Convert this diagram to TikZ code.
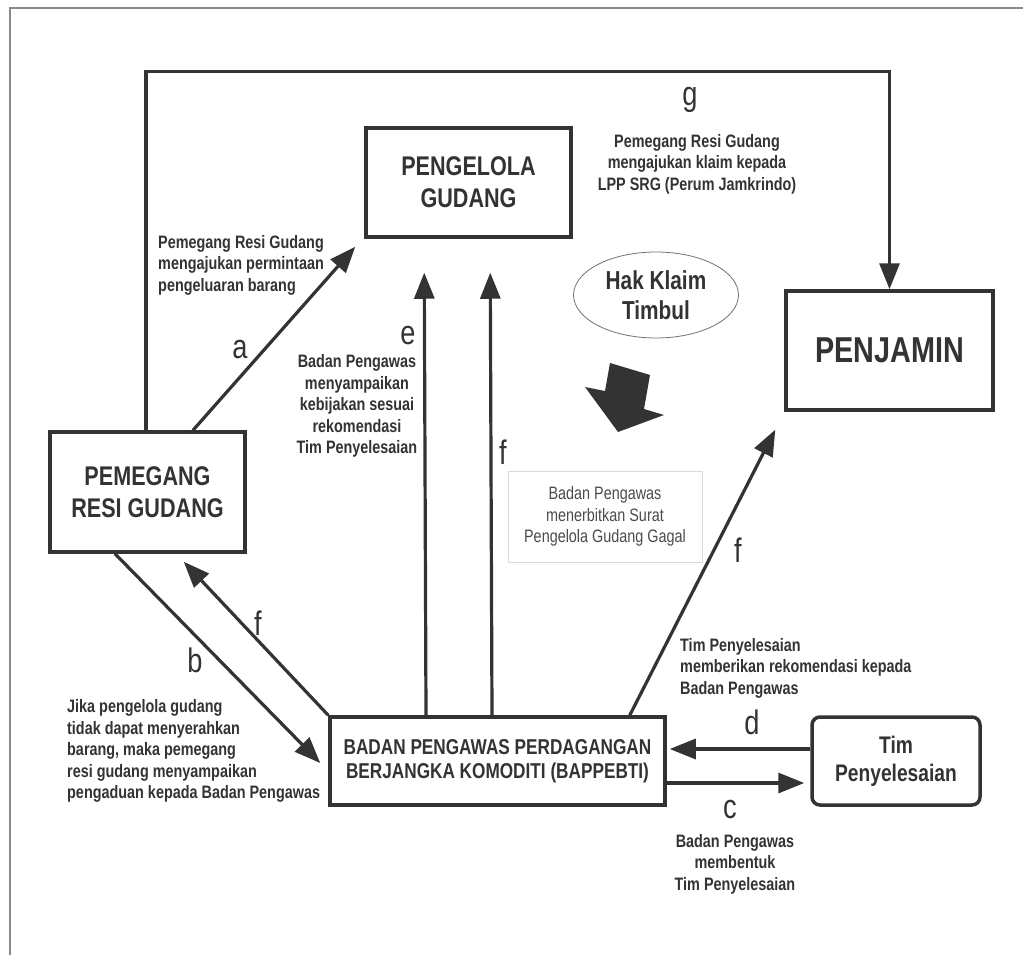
\documentclass[tikz,border=0pt]{standalone}
\usepackage{fontspec}
\setmainfont{Liberation Sans}
\newfontfamily\cond{Liberation Sans}[FakeStretch=0.8]
\usetikzlibrary{arrows.meta,shapes.geometric,calc}
\definecolor{ink}{HTML}{333333}
\definecolor{frame}{HTML}{8A8A8A}
\begin{document}
\begin{tikzpicture}[x=1pt,y=-1pt,
  box/.style={draw=ink, line width=3.5pt, inner sep=0pt, align=center, text=ink,
    font=\cond\bfseries\fontsize{27}{32}\selectfont},
  conn/.style={draw=ink, line width=3.2pt, -{Triangle[length=26pt,width=20pt]}},
  lbl/.style={font=\cond\fontsize{34}{34}\selectfont, text=ink, inner sep=0pt},
  note/.style={font=\cond\bfseries\fontsize{18}{21.5}\selectfont, text=ink, inner sep=0pt},
]
\useasboundingbox (0,0) rectangle (1023,955);
\fill[white] (0,0) rectangle (1023,955);
% page frame
\draw[frame, line width=1.5pt] (10,955) -- (10,8) -- (1023,8);

% boxes
\node[box, minimum width=195pt, minimum height=120pt] (prg) at (147.5,492) {PEMEGANG\\RESI GUDANG};
\node[box, minimum width=205pt, minimum height=109pt] (pg) at (468.5,182.5) {PENGELOLA\\GUDANG};
\node[box, minimum width=207pt, minimum height=119pt, font=\cond\bfseries\fontsize{36}{40}\selectfont] (pj) at (889.5,350.5) {PENJAMIN};
\node[box, minimum width=335pt, minimum height=88pt, font=\cond\bfseries\fontsize{21.5}{24}\selectfont] (bap) at (497.5,761) {BADAN PENGAWAS PERDAGANGAN\\BERJANGKA KOMODITI (BAPPEBTI)};
\node[box, rounded corners=8pt, minimum width=168pt, minimum height=88pt, font=\cond\bfseries\fontsize{24}{28}\selectfont] (tim) at (896,761) {Tim\\Penyelesaian};
\node[draw=black!15, line width=1pt, minimum width=194pt, minimum height=91pt, inner sep=0pt, align=center,
  text=black!70, font=\cond\fontsize{18}{21.5}\selectfont] (surat) at (605,516.5) {Badan Pengawas\\menerbitkan Surat\\Pengelola Gudang Gagal};
\node[ellipse, draw=black!55, line width=0.8pt, minimum width=165pt, minimum height=86pt, inner sep=0pt, align=center,
  text=ink, font=\cond\bfseries\fontsize{26}{30}\selectfont] (hak) at (656,295) {Hak Klaim\\Timbul};

% block arrow
\fill[ink] (610,363) -- (650,375) -- (644,409) -- (664,415) -- (618,432) -- (585,387) -- (605,391) -- cycle;

% connectors
\draw[conn] ([xshift=-1.5pt]prg.north) -- ++(0,-359) -| (pj.north);
\draw[conn] ($(prg.north)+(45.5,0)$) -- ($(pg.south west)+(-9,8)$);
\draw[conn] ($(prg.south)+(-32.5,0)$) -- ($(bap.west)+(-8,2)$);
\draw[conn] (bap.north west) -- ($(prg.south east)+(-63,8)$);
\draw[conn] ($(bap.north)+(-71.5,0)$) -- ($(pg.south west)+(60,34)$);
\draw[conn] ($(bap.north)+(-5.5,0)$) -- ($(pg.south west)+(126,34)$);
\draw[conn] ($(bap.north east)+(-37,0)$) -- ($(pj.south west)+(-9,18)$);
\draw[conn] ($(tim.west)+(0,-12)$) -- ($(bap.east)+(3,-12)$);
\draw[conn] ($(bap.east)+(0,22)$) -- ($(tim.west)+(-6,22)$);

% letter labels
\node[lbl] (la) at (240,350) {a};
\node[lbl] (lg) at (690,100) {g};
\node[lbl] (le) at (408,336) {e};
\node[lbl] (lf1) at (503,452) {f};
\node[lbl] (lf2) at (738,550) {f};
\node[lbl] (lf3) at (258,623) {f};
\node[lbl] (lb) at (195,660) {b};
\node[lbl] (ld) at (752,722) {d};
\node[lbl] (lc) at (730,810) {c};

% notes
\node[note, anchor=west, align=left] (na) at (158,265) {Pemegang Resi Gudang\\mengajukan permintaan\\pengeluaran barang};
\node[note, align=center] (ng) at (697,164) {Pemegang Resi Gudang\\mengajukan klaim kepada\\LPP SRG (Perum Jamkrindo)};
\node[note, align=center] (ne) at (357,406) {Badan Pengawas\\menyampaikan\\kebijakan sesuai\\rekomendasi\\Tim Penyelesaian};
\node[note, anchor=west, align=left] (nb) at (67,751) {Jika pengelola gudang\\tidak dapat menyerahkan\\barang, maka pemegang\\resi gudang menyampaikan\\pengaduan kepada Badan Pengawas};
\node[note, anchor=west, align=left] (nd) at (680,668) {Tim Penyelesaian\\memberikan rekomendasi kepada\\Badan Pengawas};
\node[note, align=center] (nc) at (735,864) {Badan Pengawas\\membentuk\\Tim Penyelesaian};
\end{tikzpicture}
\end{document}
